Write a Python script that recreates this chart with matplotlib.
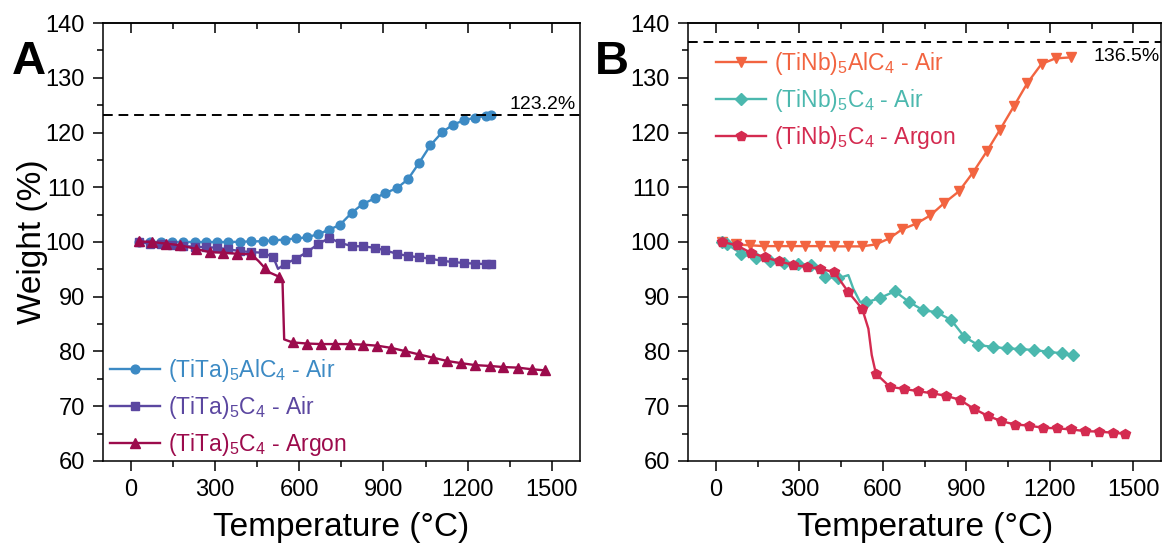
import matplotlib
matplotlib.use('Agg')
import matplotlib.pyplot as plt
from matplotlib.ticker import MultipleLocator

plt.rcParams['font.family'] = ['Liberation Sans', 'DejaVu Sans']
plt.rcParams['mathtext.default'] = 'regular'

# Panel A: (TiTa) samples
a_alc_t = [27, 69, 108, 147, 186, 228, 266, 308, 347, 388, 427, 469, 507, 548, 588, 627,
           668, 707, 745, 787, 826, 868, 907, 948, 987, 1027, 1067, 1109, 1148, 1188,
           1228, 1267, 1283]
a_alc_w = [100.0, 100.0, 100.0, 100.0, 100.0, 100.0, 100.0, 100.0, 100.0, 100.05, 100.1,
           100.15, 100.3, 100.45, 100.65, 100.85, 101.45, 102.25, 103.15, 105.35, 106.95,
           107.95, 108.95, 109.85, 111.45, 114.45, 117.65, 120.05, 121.45, 122.25, 122.75,
           123.05, 123.2]

a_c_air_t = [27, 69, 108, 147, 186, 228, 266, 308, 347, 388, 427, 469, 507, 524, 548, 588,
             627, 668, 707, 745, 787, 826, 868, 907, 948, 987, 1027, 1067, 1109, 1148,
             1188, 1228, 1267, 1283]
a_c_air_w = [100.0, 99.7, 99.55, 99.4, 99.25, 99.15, 99.05, 98.95, 98.65, 98.35, 98.15,
             98.05, 97.25, 95.1, 95.95, 96.95, 98.15, 99.65, 100.75, 99.85, 99.25, 99.2,
             98.95, 98.45, 97.85, 97.45, 97.2, 96.95, 96.55, 96.35, 96.15, 96.05, 95.95,
             95.9]
a_c_air_skip = [13]

a_c_ar_t = [27, 75, 126, 176, 230, 280, 329, 379, 429, 455, 477, 493, 528, 540, 546, 576,
            627, 677, 727, 779, 826, 878, 928, 978, 1027, 1077, 1128, 1178, 1228, 1279,
            1327, 1378, 1428, 1474]
a_c_ar_w = [100.1, 100.0, 99.7, 99.4, 98.75, 98.15, 98.05, 97.85, 97.75, 96.5, 95.25,
            94.45, 93.65, 92.8, 82.2, 81.65, 81.45, 81.35, 81.35, 81.35, 81.25, 81.05,
            80.65, 80.05, 79.45, 78.85, 78.25, 77.85, 77.5, 77.35, 77.15, 77.05, 76.75,
            76.55]
a_c_ar_skip = [9, 11, 13, 14]

# Panel B: (TiNb) samples
b_alc_t = [24, 71, 123, 173, 223, 271, 321, 373, 423, 473, 524, 574, 623, 670, 720, 770,
           821, 873, 923, 973, 1021, 1071, 1119, 1170, 1220, 1277]
b_alc_w = [100.0, 99.55, 99.4, 99.25, 99.25, 99.25, 99.25, 99.25, 99.2, 99.2, 99.2, 99.55,
           100.65, 102.35, 103.35, 104.85, 107.15, 109.25, 112.65, 116.55, 120.55, 124.85,
           129.05, 132.55, 133.55, 133.75]

b_c_air_t = [24, 42, 92, 143, 194, 244, 294, 343, 393, 440, 476, 494, 518, 539, 589, 643,
             694, 744, 794, 845, 893, 943, 994, 1044, 1092, 1143, 1193, 1244, 1283]
b_c_air_w = [100.0, 99.55, 97.85, 97.05, 96.45, 96.25, 96.05, 95.75, 93.65, 93.35, 93.95,
             91.45, 89.05, 88.95, 89.75, 91.0, 89.05, 87.55, 87.15, 85.75, 82.65, 81.15,
             80.85, 80.55, 80.45, 80.25, 79.95, 79.65, 79.35]
b_c_air_skip = [10, 11, 12]

b_c_ar_t = [24, 75, 125, 175, 226, 276, 327, 375, 426, 476, 526, 548, 560, 575, 625, 675,
            726, 776, 827, 877, 926, 976, 1026, 1075, 1125, 1175, 1226, 1276, 1325, 1375,
            1425, 1470]
b_c_ar_w = [100.0, 99.4, 98.05, 97.25, 96.45, 95.85, 95.45, 95.15, 94.45, 90.85, 87.75,
            84.15, 79.35, 75.95, 73.55, 73.15, 72.75, 72.35, 71.9, 71.15, 69.55, 68.25,
            67.25, 66.65, 66.45, 66.05, 65.95, 65.75, 65.45, 65.35, 65.15, 64.95]
b_c_ar_skip = [11, 12]

a_max = 123.2
b_max = 136.5


def marks(n, skip):
    return [i for i in range(n) if i not in skip]


fig = plt.figure(figsize=(11.66, 5.5), dpi=100)
ax_a = fig.add_axes([0.0883, 0.162, 0.409, 0.796])
ax_b = fig.add_axes([0.590, 0.162, 0.406, 0.796])

ax_a.plot(a_alc_t, a_alc_w, '-o', color='#3c8ac4', lw=1.7, ms=6.3,
          label='(TiTa)$_5$AlC$_4$ - Air')
ax_a.plot(a_c_air_t, a_c_air_w, '-s', color='#5b47a0', lw=1.7, ms=6.3,
          markevery=marks(len(a_c_air_t), a_c_air_skip), label='(TiTa)$_5$C$_4$ - Air')
ax_a.plot(a_c_ar_t, a_c_ar_w, '-^', color='#9c0b4c', lw=1.7, ms=6.8,
          markevery=marks(len(a_c_ar_t), a_c_ar_skip), label='(TiTa)$_5$C$_4$ - Argon')
ax_a.axhline(a_max, color='black', ls=(0, (5, 3)), lw=1.4)
ax_a.text(1585, a_max + 0.4, f'{a_max}%', ha='right', va='bottom', fontsize=14)

ax_b.plot(b_alc_t, b_alc_w, '-v', color='#f26440', lw=1.7, ms=6.8,
          label='(TiNb)$_5$AlC$_4$ - Air')
ax_b.plot(b_c_air_t, b_c_air_w, '-D', color='#4bb8ae', lw=1.7, ms=5.8,
          markevery=marks(len(b_c_air_t), b_c_air_skip), label='(TiNb)$_5$C$_4$ - Air')
ax_b.plot(b_c_ar_t, b_c_ar_w, '-p', color='#d42b50', lw=1.7, ms=7.3,
          markevery=marks(len(b_c_ar_t), b_c_ar_skip), label='(TiNb)$_5$C$_4$ - Argon')
ax_b.axhline(b_max, color='black', ls=(0, (5, 3)), lw=1.4)
ax_b.text(1595, b_max - 1.0, f'{b_max}%', ha='right', va='top', fontsize=14)

for ax in (ax_a, ax_b):
    ax.set_xlim(-100, 1600)
    ax.set_ylim(60, 140)
    ax.xaxis.set_major_locator(MultipleLocator(300))
    ax.xaxis.set_minor_locator(MultipleLocator(150))
    ax.yaxis.set_major_locator(MultipleLocator(10))
    ax.yaxis.set_minor_locator(MultipleLocator(5))
    ax.tick_params(which='both', direction='out', labelsize=17, width=1.1, pad=6)
    ax.tick_params(which='major', length=7)
    ax.tick_params(which='minor', length=4)
    for sp in ax.spines.values():
        sp.set_linewidth(1.1)
    # inward ticks along the top edge
    top = ax.secondary_xaxis('top')
    top.xaxis.set_major_locator(MultipleLocator(300))
    top.xaxis.set_minor_locator(MultipleLocator(150))
    top.tick_params(which='both', direction='in', labeltop=False, width=1.1)
    top.tick_params(which='major', length=7)
    top.tick_params(which='minor', length=4)
    top.spines['top'].set_linewidth(1.1)
    ax.set_xlabel('Temperature (°C)', fontsize=24, labelpad=8)

ax_a.set_ylabel('Weight (%)', fontsize=24, labelpad=-2)

ax_a.legend(loc='lower left', frameon=False, fontsize=16.5, labelcolor='linecolor',
            handlelength=2.2, handletextpad=0.35, borderaxespad=0.0, labelspacing=0.45,
            bbox_to_anchor=(-0.005, -0.015))
ax_b.legend(loc='upper left', frameon=False, fontsize=16.5, labelcolor='linecolor',
            handlelength=2.2, handletextpad=0.35, borderaxespad=0.0, labelspacing=0.45,
            bbox_to_anchor=(0.04, 0.96))

fig.text(0.010, 0.865, 'A', fontsize=34, fontweight='bold')
fig.text(0.510, 0.865, 'B', fontsize=34, fontweight='bold')

fig.savefig('out.png', dpi=100)
